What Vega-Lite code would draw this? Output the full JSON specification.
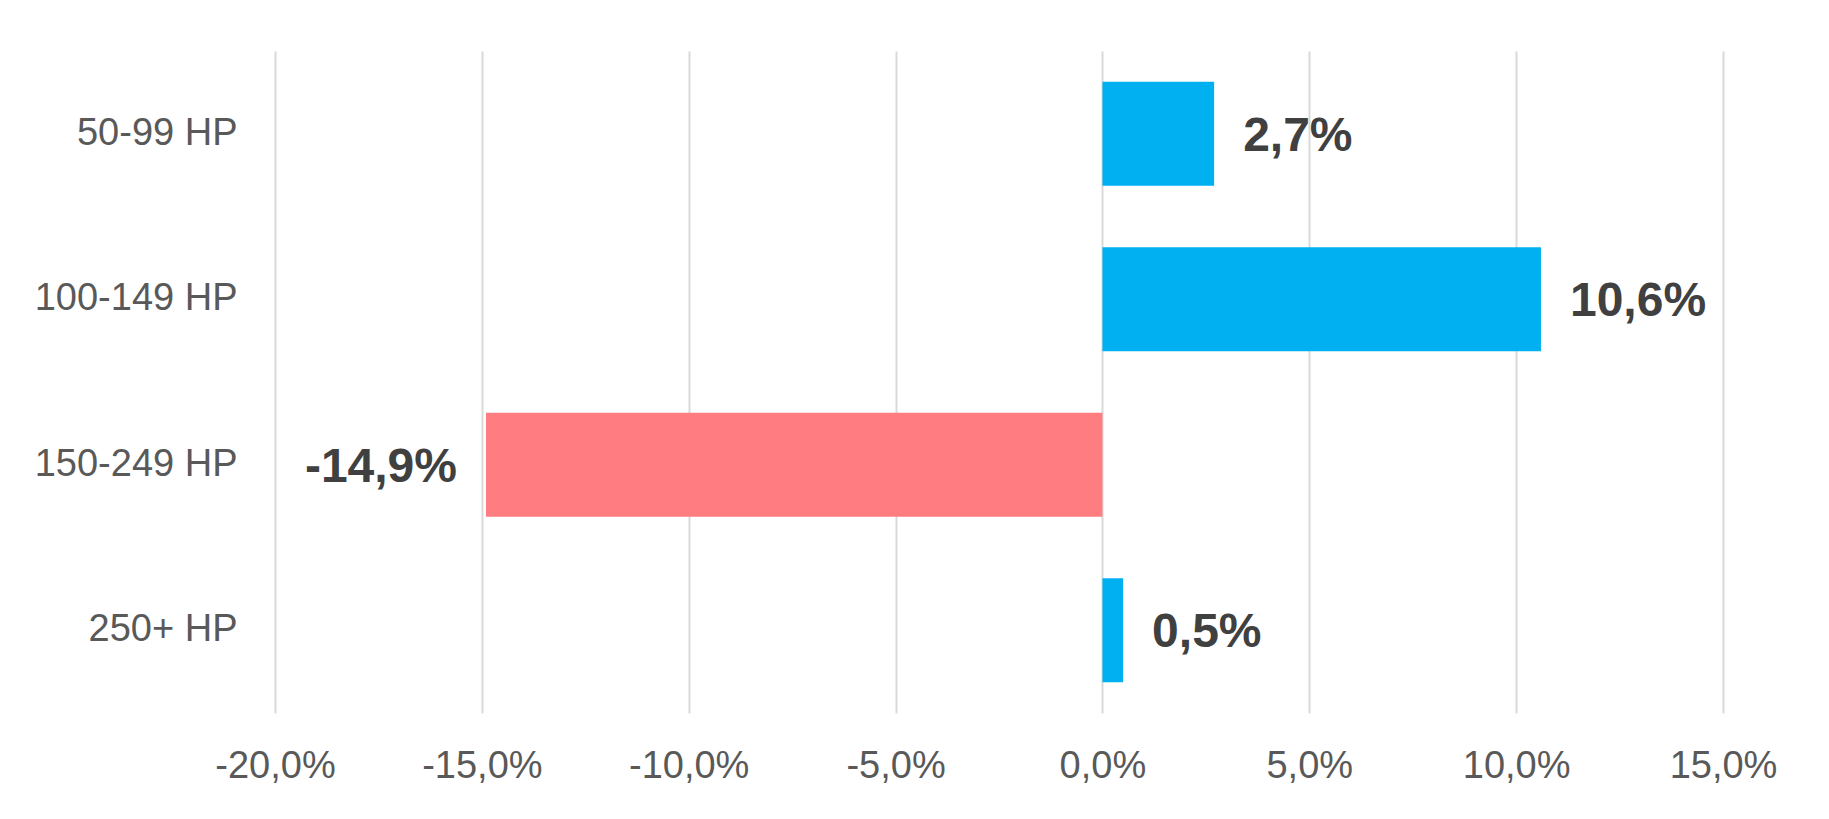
{
  "$schema": "https://vega.github.io/schema/vega-lite/v6.json",
  "width": 1448,
  "height": 662,
  "autosize": "none",
  "padding": {"left": 275, "top": 51, "right": 106, "bottom": 106},
  "background": "white",
  "data": {
    "values": [
      {"segment": "50-99 HP", "change": 0.027},
      {"segment": "100-149 HP", "change": 0.106},
      {"segment": "150-249 HP", "change": -0.149},
      {"segment": "250+ HP", "change": 0.005}
    ]
  },
  "encoding": {
    "y": {
      "field": "segment",
      "type": "nominal",
      "sort": null,
      "title": null,
      "scale": {"paddingInner": 0.372, "paddingOuter": 0.186},
      "axis": {
        "domain": false,
        "ticks": false,
        "labelPadding": 38,
        "labelFontSize": 38,
        "labelLimit": 400,
        "labelColor": "#595959",
        "labelFont": "Liberation Sans"
      }
    },
    "x": {
      "field": "change",
      "type": "quantitative",
      "title": null,
      "scale": {"domain": [-0.2, 0.15], "nice": false},
      "axis": {
        "values": [-0.2, -0.15, -0.1, -0.05, 0, 0.05, 0.1, 0.15],
        "format": ".1%",
        "domain": false,
        "ticks": false,
        "grid": true,
        "gridColor": "#D9D9D9",
        "gridWidth": 2,
        "labelFlush": false,
        "labelPadding": 64,
        "labelBaseline": "alphabetic",
        "labelFontSize": 38,
        "labelColor": "#595959",
        "labelFont": "Liberation Sans"
      }
    }
  },
  "layer": [
    {
      "mark": {"type": "bar"},
      "encoding": {
        "color": {
          "condition": {"test": "datum.change < 0", "value": "#FF7C80"},
          "value": "#00B0F0"
        }
      }
    },
    {
      "transform": [{"filter": "datum.change >= 0"}],
      "mark": {
        "type": "text",
        "align": "left",
        "baseline": "middle",
        "dx": 29,
        "dy": 3,
        "fontSize": 48,
        "fontWeight": "bold",
        "font": "Liberation Sans",
        "color": "#404040"
      },
      "encoding": {
        "text": {"field": "change", "type": "quantitative", "format": ".1%"}
      }
    },
    {
      "transform": [{"filter": "datum.change < 0"}],
      "mark": {
        "type": "text",
        "align": "right",
        "baseline": "middle",
        "dx": -29,
        "dy": 3,
        "fontSize": 48,
        "fontWeight": "bold",
        "font": "Liberation Sans",
        "color": "#404040"
      },
      "encoding": {
        "text": {"field": "change", "type": "quantitative", "format": ".1%"}
      }
    }
  ],
  "config": {
    "view": {"stroke": null},
    "locale": {
      "number": {
        "decimal": ",",
        "thousands": ".",
        "grouping": [3],
        "currency": ["", " €"],
        "minus": "-",
        "percent": "%"
      }
    }
  }
}
